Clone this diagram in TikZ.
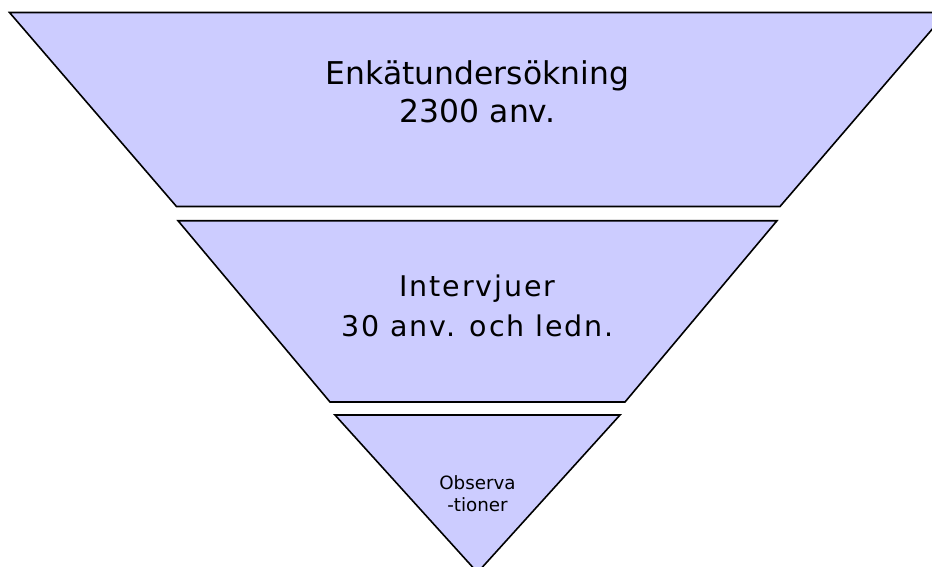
\documentclass[tikz,border=0pt]{standalone}
\usepackage{fontspec}
\setmainfont{DejaVu Sans}
\newfontfamily\spacedfont[LetterSpace=6.5]{DejaVu Sans}
\definecolor{tierfill}{HTML}{CCCCFF}
\begin{document}
\begin{tikzpicture}[x=1pt,y=-1pt,
  tier/.style={fill=tierfill,draw=black,line width=1.6pt,line join=miter},
  label/.style={anchor=base,align=center,inner sep=0pt}]
\useasboundingbox (0,0) rectangle (932,567);
\clip (0,0) rectangle (932,567);
% top tier: survey
\draw[tier] (9.5,12.5) -- (946.5,12.5) -- (780,206.5) -- (176.5,206.5) -- cycle;
% middle tier: interviews
\draw[tier] (178,220.7) -- (777,220.7) -- (625,402) -- (330,402) -- cycle;
% bottom tier: observations
\draw[tier] (335,415) -- (620,415) -- (477.5,572.5) -- cycle;
% labels are placed by the baseline of their last line
\node[label,font={\fontsize{31.4}{38.4}\selectfont}] (survey) at (477.5,122.7)
  {Enkätundersökning\\2300 anv.};
\node[label,font={\fontsize{28.5}{40}\spacedfont}] (interviews) at (477.5,336.7)
  {Intervjuer\\30 anv. och ledn.};
\node[label,font={\fontsize{18.3}{22}\selectfont}] (observations) at (477.5,511.5)
  {Observa\\-tioner};
\end{tikzpicture}
\end{document}
